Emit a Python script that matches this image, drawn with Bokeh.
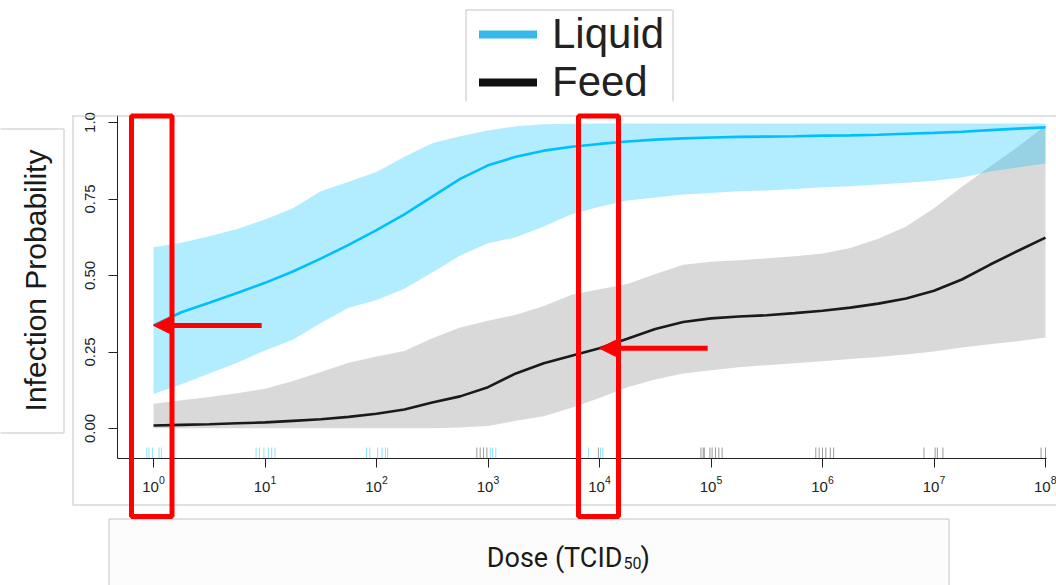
import math
from bokeh.plotting import figure
from bokeh.models import (Range1d, FixedTicker, Label, Arrow, NormalHead,
                          BoxAnnotation, Legend, LegendItem)
from bokeh.embed import file_html
from bokeh.resources import INLINE

# ---------------- data (log10 dose grid and fitted curves) -------------
log_dose = [0, 0.25, 0.5, 0.75, 1, 1.25, 1.5, 1.75, 2, 2.25, 2.5, 2.75, 3, 3.25, 3.5, 3.75,
            4, 4.25, 4.5, 4.75, 5, 5.25, 5.5, 5.75, 6, 6.25, 6.5, 6.75, 7, 7.25, 7.5, 7.75, 8]

liquid_mean = [0.337, 0.380, 0.411, 0.443, 0.476, 0.513, 0.555, 0.600, 0.648, 0.700, 0.758,
               0.816, 0.860, 0.888, 0.908, 0.921, 0.930, 0.938, 0.944, 0.948, 0.951, 0.953,
               0.954, 0.955, 0.957, 0.958, 0.960, 0.963, 0.966, 0.970, 0.975, 0.980, 0.984]
liquid_upper = [0.592, 0.607, 0.628, 0.652, 0.683, 0.720, 0.775, 0.806, 0.838, 0.888, 0.932,
                0.955, 0.974, 0.988, 0.994, 0.996, 0.997, 0.997, 0.997, 0.997, 0.997, 0.997,
                0.997, 0.997, 0.997, 0.997, 0.997, 0.997, 0.997, 0.997, 0.997, 0.997, 0.997]
liquid_lower = [0.113, 0.145, 0.180, 0.215, 0.255, 0.290, 0.345, 0.395, 0.420, 0.457, 0.510,
                0.565, 0.605, 0.625, 0.660, 0.700, 0.725, 0.745, 0.755, 0.765, 0.770, 0.775,
                0.778, 0.783, 0.788, 0.792, 0.797, 0.803, 0.810, 0.820, 0.840, 0.853, 0.866]

feed_mean = [0.010, 0.012, 0.014, 0.017, 0.020, 0.025, 0.030, 0.038, 0.048, 0.062, 0.085,
             0.105, 0.135, 0.180, 0.213, 0.238, 0.262, 0.293, 0.325, 0.348, 0.360, 0.366,
             0.370, 0.377, 0.385, 0.395, 0.408, 0.425, 0.450, 0.487, 0.535, 0.580, 0.624]
feed_upper = [0.081, 0.092, 0.103, 0.115, 0.130, 0.155, 0.185, 0.215, 0.235, 0.253, 0.295,
              0.330, 0.352, 0.372, 0.400, 0.437, 0.455, 0.472, 0.505, 0.535, 0.545, 0.550,
              0.556, 0.563, 0.572, 0.590, 0.620, 0.660, 0.720, 0.790, 0.855, 0.920, 0.990]
feed_lower = [0.001, 0.001, 0.001, 0.001, 0.001, 0.001, 0.001, 0.001, 0.001, 0.001, 0.001,
              0.003, 0.008, 0.025, 0.040, 0.068, 0.100, 0.135, 0.160, 0.180, 0.190, 0.200,
              0.207, 0.213, 0.220, 0.227, 0.234, 0.242, 0.252, 0.265, 0.275, 0.285, 0.297]

# observed doses (rug), log10 scale
liquid_rug = [-0.06, -0.04, -0.01, 0.05, 0.07, 0.92, 0.95, 0.99, 1.03, 1.06, 1.09,
              1.91, 1.94, 2.01, 2.05, 2.08, 2.10, 3.02, 3.04, 3.07, 3.90, 4.01, 4.03]
feed_rug = [2.90, 2.93, 2.96, 2.99, 3.99, 4.91, 4.93, 4.94, 4.99, 5.01, 5.04, 5.07, 5.10,
            5.94, 5.97, 6.00, 6.03, 6.07, 6.10, 6.91, 7.01, 7.03, 7.08, 7.96, 8.00]

series_names = ["Liquid", "Feed"]
x_ticks = [0, 1, 2, 3, 4, 5, 6, 7, 8]
y_ticks = [0, 0.25, 0.5, 0.75, 1.0]
y_tick_labels = ["0.00", "0.25", "0.50", "0.75", "1.0"]
y_title = "Infection Probability"
x_title = ["Dose (TCID", "50", ")"]
arrow_points = [0.0, 4.0]   # log10 doses the arrows point to

dose = [10 ** v for v in log_dose]
liquid_rug_dose = [10 ** v for v in liquid_rug]
feed_rug_dose = [10 ** v for v in feed_rug]

# ---------------- geometry (canvas px) ----------------
W, H = 1056, 585
AL, AR, AT, AB = 117, 1046, 115, 458          # axes box in canvas px
PX0, PXD = 153.0, 111.5                       # px of 10^0, px per decade
PY0, PYS = 428.0, 306.0                       # px of p=0, px per unit p


def X(px):
    return 10 ** ((px - PX0) / PXD)


def Y(py):
    return (PY0 - py) / PYS


p = figure(width=W, height=H, x_axis_type="log",
           x_range=Range1d(X(0), X(W)), y_range=Range1d(Y(H), Y(0)),
           output_backend="svg", toolbar_location=None,
           min_border_left=0, min_border_right=0, min_border_top=0, min_border_bottom=0)
p.outline_line_color = None
p.xgrid.visible = False
p.ygrid.visible = False
p.background_fill_color = "white"
p.border_fill_color = "white"

# bands
p.varea(x=dose, y1=feed_lower, y2=feed_upper, fill_color="black", fill_alpha=0.15)
p.varea(x=dose, y1=liquid_lower, y2=liquid_upper, fill_color="#00bfff", fill_alpha=0.3)
# curves
p.line(dose, feed_mean, line_color="#1a1a1a", line_width=2.6)
p.line(dose, liquid_mean, line_color="#00bfff", line_width=2.6)
# rugs
rug_lo, rug_hi = Y(AB), Y(447)
p.segment(x0=feed_rug_dose, x1=feed_rug_dose, y0=rug_lo, y1=rug_hi,
          line_color="black", line_alpha=0.4, line_width=1)
p.segment(x0=liquid_rug_dose, x1=liquid_rug_dose, y0=rug_lo, y1=rug_hi,
          line_color="#00bfff", line_alpha=0.45, line_width=1)

# axes, fixed at the axes box position
ax = p.xaxis[0]
ax.ticker = FixedTicker(ticks=[10 ** k for k in x_ticks], minor_ticks=[])
ax.fixed_location = Y(AB)
ax.bounds = (X(AL), X(AR))
ay = p.yaxis[0]
ay.ticker = FixedTicker(ticks=y_ticks, minor_ticks=[])
ay.major_label_overrides = {t: s for t, s in zip(y_ticks, y_tick_labels)}
ay.major_label_orientation = "vertical"
ay.fixed_location = X(AL)
ay.bounds = (Y(AB), Y(AT))
for a in (ax, ay):
    a.axis_line_color = "#222222"
    a.major_tick_line_color = "#222222"
    a.major_tick_out = 9
    a.major_tick_in = 0
    a.minor_tick_out = 0
    a.minor_tick_in = 0
    a.major_label_text_font = "Liberation Sans"
    a.major_label_text_font_size = "15px"
    a.major_label_text_color = "#222222"
ax.major_label_standoff = 8
ay.major_label_standoff = 14

# legend (proxy renderers with thick strokes, their points lie off the canvas)
far_x, far_y = [X(-500)] * 2, [Y(2000)] * 2
lg_liq = p.line(x=far_x, y=far_y, line_color="#36b8ec", line_width=8, line_cap="round")
lg_feed = p.line(x=far_x, y=far_y, line_color="#111111", line_width=8, line_cap="round")
legend = Legend(items=[LegendItem(label=series_names[0], renderers=[lg_liq]),
                       LegendItem(label=series_names[1], renderers=[lg_feed])],
                location=(479, H - 106),
                label_text_font="Liberation Sans", label_text_font_size="42px",
                label_text_color="#222222", glyph_width=58, glyph_height=20,
                label_standoff=15, spacing=-9, padding=10, margin=0,
                border_line_color=None, background_fill_alpha=0)
p.add_layout(legend)


def seg(x0, y0, x1, y1, color="#c4c4c4", width=1):
    p.add_layout(Arrow(x_start=X(x0), y_start=Y(y0), x_end=X(x1), y_end=Y(y1),
                       start=None, end=None, line_color=color, line_width=width))


# legend border (top, left, right)
seg(465, 9.5, 672, 9.5)
seg(465.5, 9.5, 465.5, 101)
seg(672.5, 9.5, 672.5, 101)

# plot picture border
seg(72, 115.5, 1056, 115.5)
seg(72.5, 115, 72.5, 504)
seg(72, 504.5, 1056, 504.5)

# y-label box
p.add_layout(BoxAnnotation(left=X(-20), right=X(63.5), top=Y(128.5), bottom=Y(432.5),
                           fill_color="white", fill_alpha=1, line_color="#c4c4c4",
                           line_alpha=1, line_width=1))
p.add_layout(Label(x=X(35), y=Y(280), text=y_title, angle=90, angle_units="deg",
                   text_align="center", text_baseline="middle", text_font="Liberation Sans",
                   text_font_size="30px", text_color="#1a1a1a"))

# x-label box
p.add_layout(BoxAnnotation(left=X(108.5), right=X(948.5), top=Y(518.5), bottom=Y(620),
                           fill_color="#fcfcfc", fill_alpha=1, line_color="#c4c4c4",
                           line_alpha=1, line_width=1))
p.add_layout(Label(x=X(622), y=Y(557), text=x_title[0], text_align="right",
                   text_baseline="alphabetic", text_font="Roboto",
                   text_font_size="27px", text_color="#1a1a1a"))
p.add_layout(Label(x=X(623), y=Y(562), text=x_title[1], text_align="left",
                   text_baseline="alphabetic", text_font="Roboto",
                   text_font_size="16px", text_color="#1a1a1a"))
p.add_layout(Label(x=X(640), y=Y(557), text=x_title[2], text_align="left",
                   text_baseline="alphabetic", text_font="Roboto",
                   text_font_size="27px", text_color="#1a1a1a"))

# red highlight rectangles
for l, r in ((131, 171.5), (578, 618)):
    p.add_layout(BoxAnnotation(left=X(l), right=X(r), top=Y(115.5), bottom=Y(516),
                               fill_color=None, fill_alpha=0, line_color="#ff0000",
                               line_alpha=1, line_width=5, level="overlay"))

# red arrows pointing to curve values
ptr = [(arrow_points[0], liquid_mean[log_dose.index(arrow_points[0])]),
       (arrow_points[1], feed_mean[log_dose.index(arrow_points[1])])]
for xv, yv in ptr:
    p.add_layout(Arrow(x_start=10 ** (xv + 0.97), y_start=yv, x_end=10 ** xv, y_end=yv,
                       line_color="#ff0000", line_width=5, level="overlay",
                       end=NormalHead(size=16, fill_color="#ff0000", line_color="#ff0000")))

open("out.html", "w").write(file_html(p, INLINE))
